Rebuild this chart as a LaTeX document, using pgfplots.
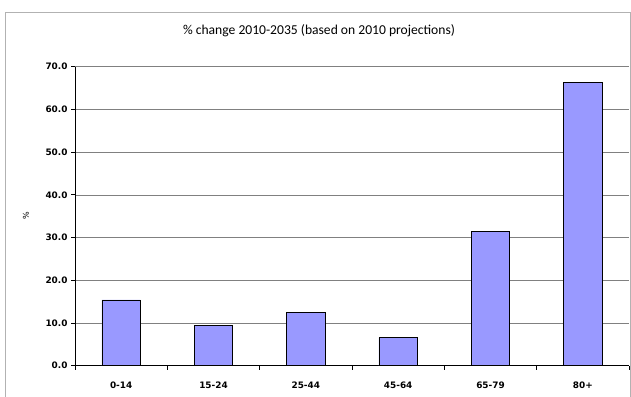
\documentclass[border=0pt]{standalone}
\usepackage{fontspec}
\setmainfont{Carlito}
\newfontfamily\dv{DejaVu Sans}
\usepackage{pgfplots}
\pgfplotsset{compat=1.18}
\definecolor{barfill}{HTML}{9999FF}
\begin{document}
\begin{tikzpicture}
\path[use as bounding box] (0pt,0pt) rectangle (631pt,396pt);
\draw[black!30, line width=1pt] (5.7pt,-2pt) -- (5.7pt,383pt) -- (630.5pt,383pt) -- (630.5pt,-2pt);
\node[font=\fontsize{13.6}{15}\selectfont] at (319pt,365pt) {\% change 2010-2035 (based on 2010 projections)};
\node[rotate=90, font=\dv\fontsize{8}{9}\selectfont] at (26pt,180pt) {\%};
\begin{axis}[at={(75pt,30.3pt)}, anchor=south west, scale only axis,
  width=554pt, height=299pt,
  xmin=-0.5, xmax=5.5, ymin=0, ymax=70,
  axis lines*=left,
  axis line style={black, line width=0.8pt},
  ybar, bar width=38.4pt,
  ymajorgrids, grid style={black!50, line width=0.6pt},
  tick align=outside,
  major tick length=4pt, minor tick length=4pt,
  ytick={0,10,...,70},
  yticklabels={0.0,10.0,20.0,30.0,40.0,50.0,60.0,70.0},
  xtick={0,...,5},
  xticklabels={0-14,15-24,25-44,45-64,65-79,80+},
  minor xtick={-0.5,0.5,...,5.5},
  major x tick style={draw=none},
  every tick/.style={black, line width=0.8pt},
  ticklabel style={font=\dv\bfseries\fontsize{8.9}{10}\selectfont},
  xticklabel style={yshift=-8.5pt},
]
\addplot[fill=barfill, draw=black, line width=0.8pt] coordinates {
(0,15.4) (1,9.45) (2,12.4) (3,6.6) (4,31.5) (5,66.3)};
\end{axis}
\end{tikzpicture}
\end{document}
